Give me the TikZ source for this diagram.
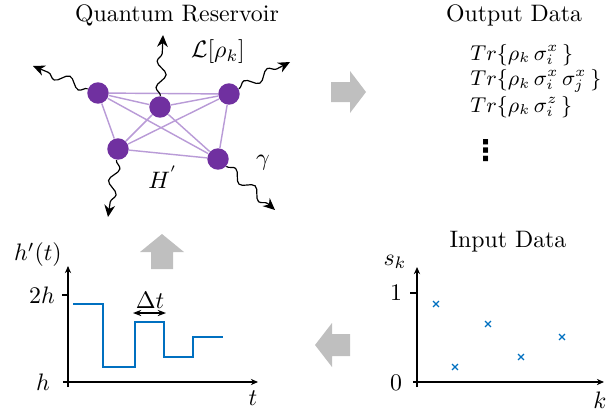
\documentclass[tikz,border=0pt]{standalone}
\usepackage{fontspec}
\newfontfamily\dotsfont{DejaVu Sans}
\usetikzlibrary{arrows.meta,decorations.pathmorphing,shapes.misc}
\definecolor{qpurple}{RGB}{112,48,160}
\definecolor{qlink}{RGB}{185,155,215}
\definecolor{qblue}{RGB}{0,112,192}
\definecolor{qgray}{RGB}{191,191,191}
\begin{document}
\begin{tikzpicture}[x=0.42pt, y=-0.42pt,
  qubit/.style={circle, fill=qpurple, minimum size=9pt, inner sep=0pt},
  link/.style={qlink, line width=0.6pt},
  wavy/.style={-{Stealth[length=5pt,width=4.5pt]}, line width=0.5pt, decorate,
    decoration={snake, amplitude=2pt, segment length=11pt, post length=3.5pt}},
  axis/.style={-{Stealth[length=3pt,width=2.6pt]}, line width=0.8pt},
  signal/.style={qblue, line width=0.9pt},
  sample/.style={cross out, draw=qblue, line width=0.5pt, minimum size=2pt, inner sep=0pt},
  formula/.style={anchor=west, inner sep=0pt, font=\fontsize{9.2}{10}\selectfont},
  fat/.style={fill=qgray}]

\useasboundingbox (0,0) rectangle (616,414);

\node [qubit] (q1) at (98,93)  {};
\node [qubit] (q2) at (160,107) {};
\node [qubit] (q3) at (229,94)  {};
\node [qubit] (q4) at (118,149) {};
\node [qubit] (q5) at (218,159) {};
\foreach \a/\b in {q1/q2,q1/q3,q1/q4,q1/q5,q2/q3,q2/q4,q2/q5,q3/q4,q3/q5,q4/q5}
  \draw [link] (\a) -- (\b);

\coordinate (w1) at (33,66);
\coordinate (w2) at (163,35);
\coordinate (w3) at (290,62);
\coordinate (w4) at (108,217);
\coordinate (w5) at (275,210);
\foreach \n in {1,...,5}
  \draw [wavy] (q\n) -- (w\n);

\node (title) at (177,15) {Quantum Reservoir};
\node (lind) at (218,52) {$\mathcal{L}[\rho_k]$};
\node (gam) at (263,163) {$\gamma$};
\node (ham) at (163,177) {$H^{'}$};

\node (outtitle) at (514,15) {Output Data};
\node [formula] (o1) at (470,55)  {$Tr\{\rho_k\,\sigma_i^x\,\}$};
\node [formula] (o2) at (470,81)  {$Tr\{\rho_k\,\sigma_i^x\,\sigma_j^x\,\}$};
\node [formula] (o3) at (470,107) {$Tr\{\rho_k\,\sigma_i^z\,\}$};
\node [formula, font=\dotsfont\bfseries\large] (o4) at (471,151) {⋮};

\fill [fat] (331,82) -- (350,82) -- (350,71) -- (366,92) -- (350,113) -- (350,102) -- (331,102) -- cycle;
\fill [fat] (151,269) -- (151,252) -- (140,252) -- (162,234) -- (184,252) -- (173,252) -- (173,269) -- cycle;
\fill [fat] (350,334) -- (332,334) -- (332,323) -- (315,345) -- (332,367) -- (332,356) -- (350,356) -- cycle;

\coordinate (ha) at (68,387);
\coordinate (hb) at (68,266);
\coordinate (hc) at (63,382);
\coordinate (hd) at (258,382);
\coordinate (ht) at (62,295);
\draw [axis] (ha) -- (hb);
\draw [axis] (hc) -- (hd);
\draw [line width=0.8pt] (ht) -- (ht -| ha);
\node (hlab) at (38,255) {$h'(t)$};
\node (h2) at (42,295) {$2h$};
\node (h1) at (43,382) {$h$};
\node (tlab) at (253,398) {$t$};
\draw [signal] (73,304) -| (103,367) -| (135,322) -| (164,357) -| (193,337) -- (223,337);
\node (dt) at (150,300) {$\Delta t$};
\coordinate (dta) at (133,313);
\coordinate (dtb) at (166,313);
\draw [{Stealth[length=3.5pt]}-{Stealth[length=3.5pt]}, line width=0.7pt] (dta) -- (dtb);

\node (intitle) at (508,242) {Input Data};
\coordinate (sa) at (417,387);
\coordinate (sb) at (417,267);
\coordinate (sc) at (413,382);
\coordinate (sd) at (604,382);
\coordinate (st) at (410,293);
\draw [axis] (sa) -- (sb);
\draw [axis] (sc) -- (sd);
\draw [line width=0.8pt] (st) -- (st -| sa);
\node (slab) at (395,262) {$s_k$};
\node (s1lab) at (396,293) {$1$};
\node (s0lab) at (396,383) {$0$};
\node (klab) at (600,400) {$k$};
\foreach \n/\x/\y in {1/436/304, 2/455/367, 3/488/324, 4/521/357, 5/562/337}
  \node [sample] (s\n) at (\x,\y) {};

\end{tikzpicture}
\end{document}
